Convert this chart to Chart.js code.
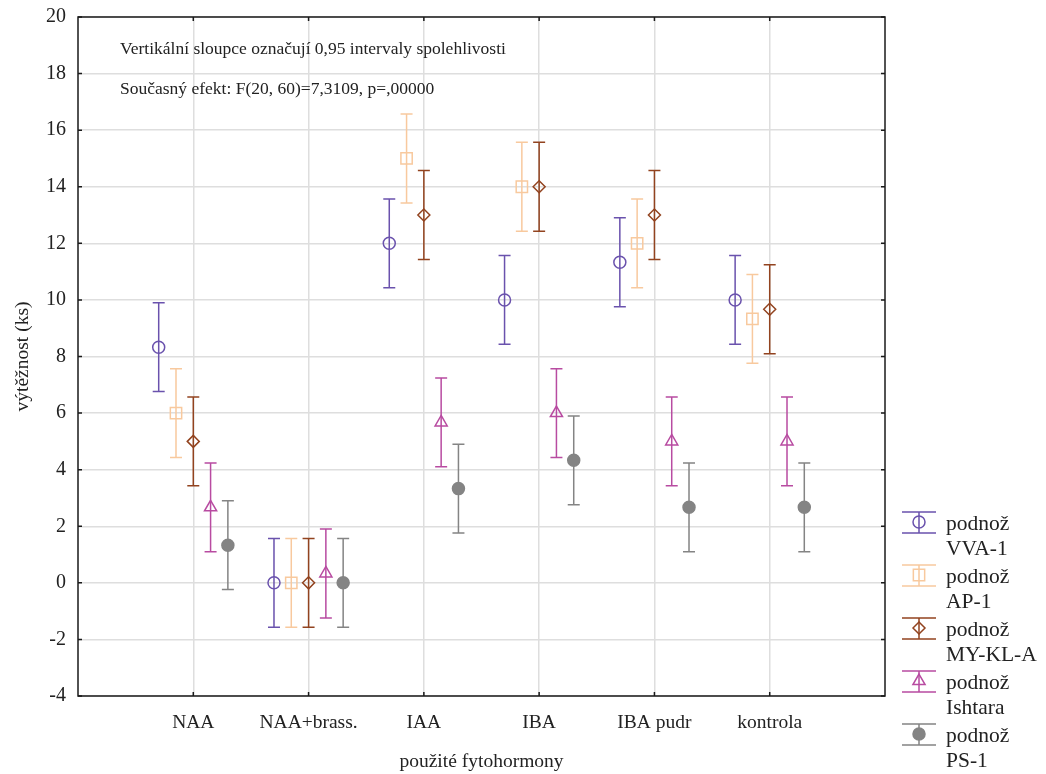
<!DOCTYPE html>
<html>
<head>
<meta charset="utf-8">
<script src="https://cdn.jsdelivr.net/npm/chart.js@4.4.1/dist/chart.umd.min.js"></script>
<style>
  html, body { margin: 0; padding: 0; background: #fff; }
  #wrap { width: 1046px; height: 774px; }
</style>
</head>
<body>
<div id="wrap"><canvas id="myChart" width="1046" height="774"></canvas></div>
<script>
// data
const categories = ['NAA', 'NAA+brass.', 'IAA', 'IBA', 'IBA pudr', 'kontrola'];
const seriesNames = ['VVA-1', 'AP-1', 'MY-KL-A', 'Ishtara', 'PS-1'];
const vva1 = [8.33, 0, 12, 10, 11.33, 10];
const ap1 = [6, 0, 15, 14, 12, 9.33];
const mykla = [5, 0, 13, 14, 13, 9.67];
const ishtara = [2.67, 0.33, 5.67, 6, 5, 5];
const ps1 = [1.33, 0, 3.33, 4.33, 2.67, 2.67];
const ciHalf = [1.57, 1.57, 1.57, 1.57, 1.57]; // 0,95 interval, polovina
const yTicks = [-4, -2, 0, 2, 4, 6, 8, 10, 12, 14, 16, 18, 20];

const colors = ['#6a52ad', '#f8c99e', '#92431f', '#b84ba1', '#848484'];
const styles = ['circle', 'rect', 'rectRot', 'triangle', 'circle'];
const radii = [6, 8, 6, 7, 6];
const fills = ['rgba(0,0,0,0)', 'rgba(0,0,0,0)', 'rgba(0,0,0,0)', 'rgba(0,0,0,0)', '#848484'];
const shift = [-0.3, -0.15, 0, 0.15, 0.3];

const FONT = "'Liberation Serif', 'Times New Roman', serif";
const allSeries = [vva1, ap1, mykla, ishtara, ps1];

const datasets = allSeries.map((vals, s) => ({
    label: 'podnož ' + seriesNames[s],
    data: vals.map((v, i) => ({x: i + 1 + shift[s], y: v})),
    ci: ciHalf[s],
    pointStyle: styles[s],
    pointRadius: radii[s],
    pointBorderWidth: 1.5,
    borderColor: colors[s],
    backgroundColor: fills[s],
    showLine: false
}));

// chybove usecky + ramecek + legenda
const errorBars = {
    id: 'errorBars',
    beforeDatasetsDraw(chart) {
        const ctx = chart.ctx;
        const xs = chart.scales.x, ys = chart.scales.y;
        ctx.save();
        ctx.lineWidth = 1.5;
        chart.data.datasets.forEach(ds => {
            ctx.strokeStyle = ds.borderColor;
            ds.data.forEach(p => {
                const x = xs.getPixelForValue(p.x);
                const top = ys.getPixelForValue(p.y + ds.ci);
                const bot = ys.getPixelForValue(p.y - ds.ci);
                ctx.beginPath();
                ctx.moveTo(x, top); ctx.lineTo(x, bot);
                ctx.moveTo(x - 6, top); ctx.lineTo(x + 6, top);
                ctx.moveTo(x - 6, bot); ctx.lineTo(x + 6, bot);
                ctx.stroke();
            });
        });
        ctx.restore();
    },
    afterDraw(chart) {
        const ctx = chart.ctx;
        const a = chart.chartArea;
        const xs = chart.scales.x, ys = chart.scales.y;
        ctx.save();
        ctx.strokeStyle = '#1a1a1a';
        ctx.lineWidth = 1.5;
        ctx.strokeRect(a.left, a.top, a.right - a.left, a.bottom - a.top);
        ctx.beginPath();
        yTicks.forEach(v => {
            const y = ys.getPixelForValue(v);
            ctx.moveTo(a.left, y); ctx.lineTo(a.left + 4, y);
            ctx.moveTo(a.right, y); ctx.lineTo(a.right - 4, y);
        });
        categories.forEach((c, i) => {
            const x = xs.getPixelForValue(i + 1);
            ctx.moveTo(x, a.bottom); ctx.lineTo(x, a.bottom - 4);
            ctx.moveTo(x, a.top); ctx.lineTo(x, a.top + 4);
        });
        ctx.stroke();

        // popisky v grafu
        ctx.fillStyle = '#222';
        ctx.font = '17.5px ' + FONT;
        ctx.textBaseline = 'alphabetic';
        ctx.fillText('Vertikální sloupce označují 0,95 intervaly spolehlivosti', a.left + 42, 54);
        ctx.fillText('Současný efekt: F(20, 60)=7,3109, p=,00000', a.left + 42, 94);

        // legenda
        chart.data.datasets.forEach((ds, s) => {
            const yc = 522 + 53 * s;
            const xc = 919;
            ctx.strokeStyle = ds.borderColor;
            ctx.lineWidth = 1.5;
            ctx.beginPath();
            ctx.moveTo(902, yc - 10); ctx.lineTo(936, yc - 10);
            ctx.moveTo(902, yc + 11); ctx.lineTo(936, yc + 11);
            ctx.moveTo(xc, yc - 10); ctx.lineTo(xc, yc + 11);
            ctx.stroke();
            ctx.fillStyle = ds.backgroundColor;
            Chart.helpers.drawPoint(ctx, {
                pointStyle: ds.pointStyle, radius: ds.pointRadius, borderWidth: 1.5
            }, xc, yc);
            ctx.fillStyle = '#222';
            ctx.font = '21.5px ' + FONT;
            ctx.fillText('podnož', 946, yc + 8);
            ctx.fillText(seriesNames[s], 946, yc + 33);
        });
        ctx.restore();
    }
};

const config = {
    type: 'scatter',
    data: {datasets: datasets},
    options: {
        responsive: false,
        animation: false,
        layout: {padding: {top: 17, right: 161, left: 0, bottom: 0}},
        plugins: {legend: {display: false}, tooltip: {enabled: false}},
        scales: {
            x: {
                type: 'linear',
                min: 0,
                max: 7,
                afterBuildTicks: axis => { axis.ticks = categories.map((c, i) => ({value: i + 1})); },
                afterFit: scale => { scale.height = 78; scale.paddingLeft = 0; scale.paddingRight = 0; },
                ticks: {
                    callback: v => categories[v - 1],
                    color: '#222',
                    font: {family: FONT, size: 19.5},
                    padding: 15,
                    maxRotation: 0,
                    autoSkip: false
                },
                grid: {color: '#dedede', lineWidth: 1.5, drawTicks: false},
                border: {display: false},
                title: {
                    display: true,
                    text: 'použité fytohormony',
                    color: '#222',
                    font: {family: FONT, size: 19.5},
                    padding: {top: 12, bottom: 0}
                }
            },
            y: {
                min: -4,
                max: 20,
                afterBuildTicks: axis => { axis.ticks = yTicks.map(v => ({value: v})); },
                afterFit: scale => { scale.width = 78; scale.paddingTop = 0; scale.paddingBottom = 0; },
                ticks: {
                    color: '#222',
                    font: {family: FONT, size: 20},
                    padding: 12
                },
                grid: {color: '#dedede', lineWidth: 1.5, drawTicks: false},
                border: {display: false},
                title: {
                    display: true,
                    text: 'výtěžnost (ks)',
                    color: '#222',
                    font: {family: FONT, size: 19.5},
                    padding: {top: 11, bottom: 0}
                }
            }
        }
    },
    plugins: [errorBars]
};

const chart = new Chart(document.getElementById('myChart').getContext('2d'), config);
</script>
</body>
</html>
